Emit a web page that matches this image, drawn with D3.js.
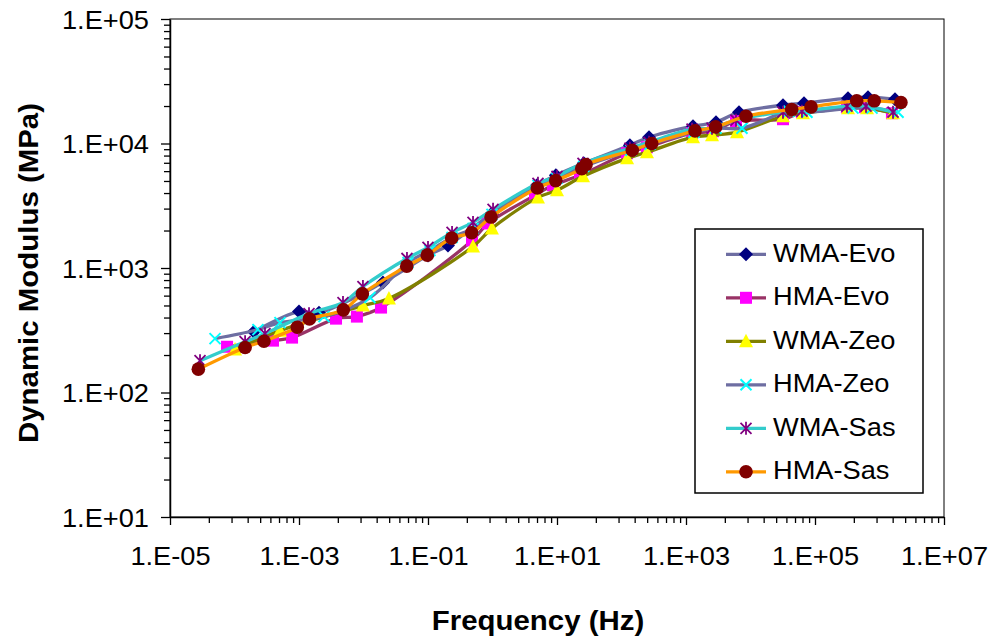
<!DOCTYPE html>
<html>
<head>
<meta charset="utf-8">
<script src="https://cdn.jsdelivr.net/npm/d3@7"></script>
<style>
  html, body { margin: 0; padding: 0; background: #fff; }
  svg { display: block; font-family: "Liberation Sans", Arial, sans-serif; }
</style>
</head>
<body>
<svg id="chart" width="990" height="643"></svg>
<script>
// ---------- data ----------
const seriesNames = ["WMA-Evo", "HMA-Evo", "WMA-Zeo", "HMA-Zeo", "WMA-Sas", "HMA-Sas"];

const wmaEvoF = [2.0e-4, 1.0e-3, 2.04e-3, 0.020, 0.10, 0.204, 0.95, 4.9, 9.6, 26, 135, 267, 1285, 2920, 6640, 31900, 67500, 325000, 664000, 1.74e6];
const wmaEvoE = [308, 447, 438, 764, 1262, 1517, 2697, 4614, 5550, 6935, 9680, 11230, 13770, 14830, 17850, 20320, 21090, 23130, 23560, 22710];

const hmaEvoF = [7.66e-5, 3.95e-4, 7.8e-4, 3.75e-3, 7.9e-3, 0.0187, 0.481, 0.85, 4.56, 8.67, 22.7, 122, 248, 1240, 2620, 5960, 31900, 62800, 313000, 596000, 1.56e6];
const hmaEvoE = [233, 261, 276, 392, 407, 481, 1665, 2280, 3835, 4614, 5550, 8350, 9330, 12100, 12550, 15100, 15670, 17850, 19580, 19580, 17510];

const wmaZeoF = [1.02e-4, 5.07e-4, 9.8e-3, 0.0248, 0.499, 0.98, 5.07, 10, 25.3, 122, 248, 1285, 2530, 6180, 31900, 65100, 325000, 640000, 1.62e6];
const wmaZeoE = [221, 314, 499, 569, 1489, 2080, 3690, 4205, 5450, 7600, 8510, 11230, 11650, 12330, 16560, 17510, 19230, 19230, 17510];

const hmaZeoF = [4.99e-5, 2.31e-4, 5.07e-4, 2.44e-3, 0.0126, 0.049, 0.107, 0.236, 0.499, 0.98, 5.07, 10, 26, 140, 277, 1330, 2920, 7380, 39500, 75100, 388000, 765000, 1.94e6];
const hmaZeoE = [271, 320, 364, 407, 579, 1107, 1383, 1760, 2080, 2697, 4614, 5250, 6560, 8830, 9860, 12330, 13270, 13270, 18180, 17850, 19230, 19230, 17850];

const wmaSasF = [2.92e-5, 1.46e-4, 2.97e-4, 1.43e-3, 4.81e-3, 9.8e-3, 0.0472, 0.1, 0.236, 0.499, 1.02, 5.07, 10, 25.3, 135, 267, 1240, 2530, 5960, 31900, 62800, 313000, 618000, 1.62e6];
const wmaSasE = [180, 256, 297, 430, 528, 710, 1192, 1462, 1932, 2323, 2958, 4786, 5450, 6935, 9160, 10230, 13030, 13270, 15380, 17850, 18180, 19950, 19950, 17850];

const hmaSasF = [2.75e-5, 1.46e-4, 2.86e-4, 9.4e-4, 1.45e-3, 4.87e-3, 9.6e-3, 0.0468, 0.0975, 0.233, 0.476, 0.95, 4.95, 9.55, 24.2, 28.2, 147, 294, 1380, 2880, 8510, 43500, 86700, 443000, 830000, 2.15e6];
const hmaSasE = [154, 230, 258, 334, 390, 461, 620, 1035, 1268, 1738, 1920, 2565, 4390, 5035, 6285, 6775, 8830, 10000, 12620, 13590, 16560, 18760, 19680, 22020, 22020, 21370];

const xMajorTicks = [1e-5, 1e-3, 1e-1, 1e1, 1e3, 1e5, 1e7];
const xTickLabels = ["1.E-05", "1.E-03", "1.E-01", "1.E+01", "1.E+03", "1.E+05", "1.E+07"];
const xMinorMultipliers = [4, 9, 16, 25, 36, 49, 64, 81];
const yMajorTicks = [1e1, 1e2, 1e3, 1e4, 1e5];
const yTickLabels = ["1.E+01", "1.E+02", "1.E+03", "1.E+04", "1.E+05"];
const yMinorMultipliers = [2, 3, 4, 5, 6, 7, 8, 9];

const xTitle = "Frequency (Hz)";
const yTitle = "Dynamic Modulus (MPa)";

// ---------- styling ----------
const lineColors = ["#6E6EA2", "#993366", "#808000", "#6E6EA2", "#33CCCC", "#FF9900"];
const markerColors = ["#000080", "#FF00FF", "#FFFF00", "#00FFFF", "#800080", "#800000"];
const markerTypes = ["diamond", "square", "triangle", "x", "star", "circle"];
const SX = 1.09; // horizontal glyph stretch seen in the reference

const svg = d3.select("#chart");
const pLeft = 170, pRight = 944, pTop = 19, pBottom = 517;

const x = d3.scaleLog().domain([1e-5, 1e7]).range([pLeft, pRight]);
const y = d3.scaleLog().domain([1e1, 1e5]).range([pBottom, pTop]);

// plot area border
svg.append("rect")
  .attr("x", pLeft).attr("y", pTop)
  .attr("width", pRight - pLeft).attr("height", pBottom - pTop)
  .attr("fill", "none").attr("stroke", "#000").attr("stroke-width", 1);

// minor ticks
const xMinor = [];
for (let i = 0; i < xMajorTicks.length - 1; i++) {
  xMinorMultipliers.forEach(m => xMinor.push(xMajorTicks[i] * m));
}
const yMinor = [];
for (let i = 0; i < yMajorTicks.length - 1; i++) {
  yMinorMultipliers.forEach(m => yMinor.push(yMajorTicks[i] * m));
}

const gxMinor = svg.append("g").attr("transform", `translate(0,${pBottom})`)
  .call(d3.axisBottom(x).tickValues(xMinor).tickSize(6).tickSizeOuter(0).tickFormat(""));
gxMinor.select(".domain").remove();
const gyMinor = svg.append("g").attr("transform", `translate(${pLeft},0)`)
  .call(d3.axisLeft(y).tickValues(yMinor).tickSize(6).tickSizeOuter(0).tickFormat(""));
gyMinor.select(".domain").remove();

// major axes
const gx = svg.append("g").attr("transform", `translate(0,${pBottom})`)
  .call(d3.axisBottom(x).tickValues(xMajorTicks).tickSize(8).tickSizeOuter(0)
    .tickFormat((d, i) => xTickLabels[i]));
gx.selectAll("text")
  .attr("y", 48).attr("dy", null)
  .attr("fill", "#000")
  .style("font-size", "25px")
  .attr("transform", `scale(${SX},1)`);

const gy = svg.append("g").attr("transform", `translate(${pLeft},0)`)
  .call(d3.axisLeft(y).tickValues(yMajorTicks).tickSize(9).tickSizeOuter(0)
    .tickFormat((d, i) => yTickLabels[i]));
gy.selectAll("text")
  .attr("x", -19.3).attr("dy", null).attr("y", 9)
  .attr("fill", "#000")
  .style("font-size", "25px")
  .attr("transform", `scale(${SX},1)`);

[gx, gy, gxMinor, gyMinor].forEach(g => {
  g.selectAll("line").attr("stroke", "#000").attr("stroke-width", 1.3);
  g.selectAll(".domain").attr("stroke", "#000").attr("stroke-width", 1.5);
});

// axis titles
svg.append("text")
  .attr("transform", `translate(538,630) scale(${SX},1)`)
  .attr("text-anchor", "middle")
  .style("font-size", "27px").style("font-weight", "bold")
  .text(xTitle);

svg.append("text")
  .attr("transform", `translate(38,273) rotate(-90) scale(${SX},1)`)
  .attr("text-anchor", "middle")
  .style("font-size", "27px").style("font-weight", "bold")
  .text(yTitle);

// markers
function drawMarker(g, type, color, cx, cy) {
  const t = `translate(${cx},${cy})`;
  switch (type) {
    case "diamond":
      g.append("path").attr("transform", t).attr("d", "M0,-7L7,0L0,7L-7,0Z").attr("fill", color);
      break;
    case "square":
      g.append("rect").attr("transform", t).attr("x", -6).attr("y", -6)
        .attr("width", 12).attr("height", 12).attr("fill", color);
      break;
    case "triangle":
      g.append("path").attr("transform", t).attr("d", "M0,-7.5L7,6L-7,6Z").attr("fill", color);
      break;
    case "x":
      g.append("path").attr("transform", t).attr("d", "M-5.5,-5.5L5.5,5.5M-5.5,5.5L5.5,-5.5")
        .attr("stroke", color).attr("stroke-width", 2).attr("fill", "none");
      break;
    case "star":
      g.append("path").attr("transform", t).attr("d", "M-5.5,-5.5L5.5,5.5M-5.5,5.5L5.5,-5.5M0,-6.5L0,6.5")
        .attr("stroke", color).attr("stroke-width", 1.8).attr("fill", "none");
      break;
    case "circle":
      g.append("circle").attr("transform", t).attr("r", 6.8).attr("fill", color);
      break;
  }
}

const seriesF = [wmaEvoF, hmaEvoF, wmaZeoF, hmaZeoF, wmaSasF, hmaSasF];
const seriesE = [wmaEvoE, hmaEvoE, wmaZeoE, hmaZeoE, wmaSasE, hmaSasE];

const line = d3.line().x(d => x(d[0])).y(d => y(d[1])).curve(d3.curveCatmullRom.alpha(0.5));

const plotG = svg.append("g");
seriesNames.forEach((name, i) => {
  const pts = seriesF[i].map((f, j) => [f, seriesE[i][j]]);
  const g = plotG.append("g");
  g.append("path").datum(pts).attr("d", line)
    .attr("fill", "none").attr("stroke", lineColors[i]).attr("stroke-width", 3.3)
    .attr("stroke-linejoin", "round");
  pts.forEach(p => drawMarker(g, markerTypes[i], markerColors[i], x(p[0]), y(p[1])));
});

// legend
const lg = svg.append("g");
lg.append("rect").attr("x", 695).attr("y", 229).attr("width", 228).attr("height", 264)
  .attr("fill", "#fff").attr("stroke", "#000").attr("stroke-width", 1.5);
seriesNames.forEach((name, i) => {
  const ry = 254.3 + i * 43.5;
  lg.append("line").attr("x1", 726).attr("x2", 766).attr("y1", ry).attr("y2", ry)
    .attr("stroke", lineColors[i]).attr("stroke-width", 3.3);
  drawMarker(lg, markerTypes[i], markerColors[i], 746, ry);
  lg.append("text")
    .attr("transform", `translate(773,${ry + 7.5}) scale(${SX},1)`)
    .style("font-size", "25px")
    .text(name);
});
</script>
</body>
</html>
